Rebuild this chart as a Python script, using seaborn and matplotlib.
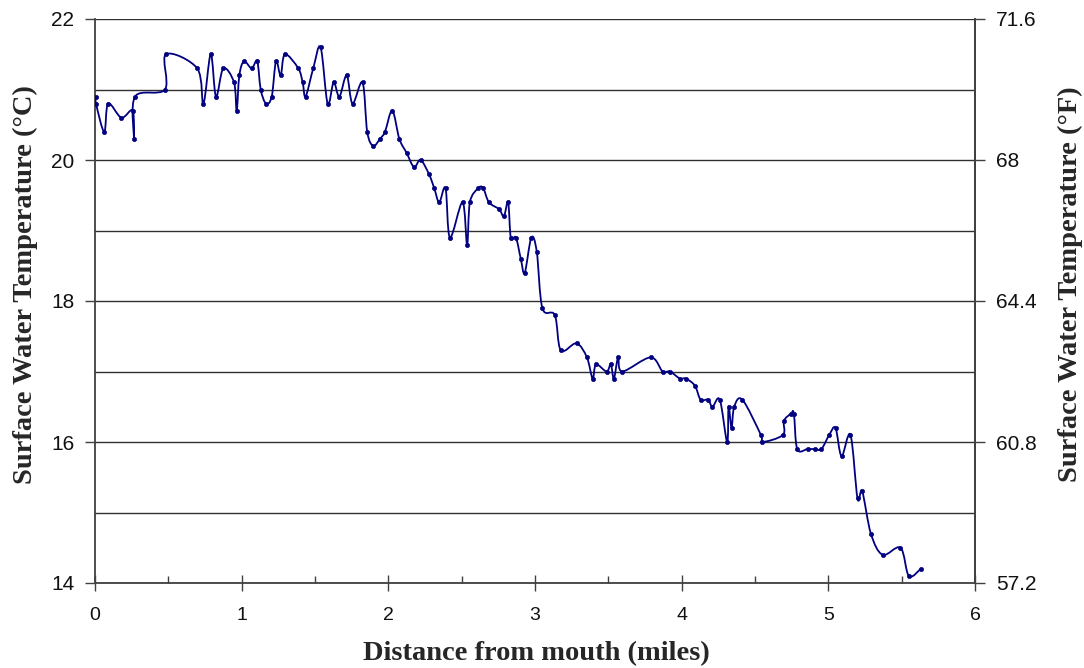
import numpy as np
import pandas as pd
import matplotlib
matplotlib.use("Agg")
import matplotlib.pyplot as plt
from matplotlib.path import Path
from matplotlib.patches import PathPatch
import seaborn as sns

# ---- data ----
distance_miles = [0.007, 0.007, 0.063, 0.09, 0.18, 0.257, 0.266, 0.273, 0.477, 0.484,
                  0.697, 0.739, 0.789, 0.825, 0.875, 0.948, 0.966, 0.984, 1.016, 1.068,
                  1.106, 1.13, 1.166, 1.205, 1.234, 1.266, 1.295, 1.386, 1.416, 1.436,
                  1.488, 1.538, 1.586, 1.627, 1.666, 1.716, 1.756, 1.824, 1.856, 1.897,
                  1.943, 1.977, 2.027, 2.075, 2.125, 2.175, 2.22, 2.277, 2.313, 2.347,
                  2.39, 2.42, 2.506, 2.537, 2.556, 2.613, 2.647, 2.686, 2.756, 2.788,
                  2.817, 2.835, 2.87, 2.903, 2.93, 2.975, 3.012, 3.05, 3.135, 3.176,
                  3.283, 3.354, 3.393, 3.416, 3.488, 3.517, 3.538, 3.567, 3.595, 3.788,
                  3.87, 3.92, 3.988, 4.028, 4.09, 4.129, 4.18, 4.21, 4.26, 4.31,
                  4.32, 4.34, 4.358, 4.414, 4.54, 4.55, 4.69, 4.697, 4.745, 4.765,
                  4.788, 4.858, 4.908, 4.953, 5.006, 5.049, 5.09, 5.151, 5.199, 5.231,
                  5.29, 5.37, 5.492, 5.549, 5.63]
temperature_c = [20.9, 20.8, 20.4, 20.8, 20.6, 20.7, 20.3, 20.9, 21.0, 21.5,
                 21.3, 20.8, 21.5, 20.9, 21.3, 21.1, 20.7, 21.2, 21.4, 21.3,
                 21.4, 21.0, 20.8, 20.9, 21.4, 21.2, 21.5, 21.3, 21.1, 20.9,
                 21.3, 21.6, 20.8, 21.1, 20.9, 21.2, 20.8, 21.1, 20.4, 20.2,
                 20.3, 20.4, 20.7, 20.3, 20.1, 19.9, 20.0, 19.8, 19.6, 19.4,
                 19.6, 18.9, 19.4, 18.8, 19.4, 19.6, 19.6, 19.4, 19.3, 19.2,
                 19.4, 18.9, 18.9, 18.6, 18.4, 18.9, 18.7, 17.9, 17.8, 17.3,
                 17.4, 17.2, 16.9, 17.1, 17.0, 17.1, 16.9, 17.2, 17.0, 17.2,
                 17.0, 17.0, 16.9, 16.9, 16.8, 16.6, 16.6, 16.5, 16.6, 16.0,
                 16.5, 16.2, 16.5, 16.6, 16.1, 16.0, 16.1, 16.3, 16.4, 16.4,
                 15.9, 15.9, 15.9, 15.9, 16.1, 16.2, 15.8, 16.1, 15.2, 15.3,
                 14.7, 14.4, 14.5, 14.1, 14.2]

x_ticks = [0, 1, 2, 3, 4, 5, 6]
c_ticks = [14, 16, 18, 20, 22]
f_ticks = [57.2, 60.8, 64.4, 68, 71.6]
f_tick_labels = ["57.2", "60.8", "64.4", "68", "71.6"]

x_label = "Distance from mouth (miles)"
yl_label = "Surface Water Temperature (°C)"
yr_label = "Surface Water Temperature (°F)"

df = pd.DataFrame({"distance": distance_miles, "temp": temperature_c})

sns.set_theme(style="white")
plt.rcParams["font.family"] = ["Liberation Sans", "DejaVu Sans"]

line_color = "#000080"
axis_color = "#404040"
label_font = dict(family=["Liberation Serif", "DejaVu Serif"], fontweight="bold",
                  fontsize=20.5)

fig = plt.figure(figsize=(10.84, 6.68), dpi=100)
ax = fig.add_axes([95 / 1084, 1 - 583 / 668, 880 / 1084, 564 / 668])

# smoothed line (Catmull-Rom style Bezier through the data points, in data coords)
xs = np.asarray(df["distance"], float)
ys = np.asarray(df["temp"], float)
P = np.column_stack([xs, ys])
Pext = np.vstack([P[0], P, P[-1]])
verts = [tuple(P[0])]
codes = [Path.MOVETO]
for i in range(len(P) - 1):
    p0, p1, p2, p3 = Pext[i], Pext[i + 1], Pext[i + 2], Pext[i + 3]
    c1 = p1 + (p2 - p0) / 6.0
    c2 = p2 - (p3 - p1) / 6.0
    verts += [tuple(c1), tuple(c2), tuple(p2)]
    codes += [Path.CURVE4, Path.CURVE4, Path.CURVE4]
ax.add_patch(PathPatch(Path(verts, codes), facecolor="none", edgecolor=line_color,
                       lw=1.3, zorder=3))

sns.scatterplot(data=df, x="distance", y="temp", ax=ax, color=line_color, s=9,
                marker="o", edgecolor=line_color, linewidth=0.5, zorder=4, legend=False)

ax.set_xlim(0, 6)
ax.set_ylim(14, 22)
ax.set_xticks(x_ticks)
ax.set_xticks([0.5, 1.5, 2.5, 3.5, 4.5, 5.5], minor=True)
ax.set_yticks(c_ticks)
ax.set_yticks(np.arange(14, 23, 1), minor=True)
ax.yaxis.grid(True, which="both", color="#303030", lw=1.0)
ax.xaxis.grid(False)
ax.set_axisbelow(True)

for s in ["left", "bottom", "right"]:
    ax.spines[s].set_color(axis_color)
    ax.spines[s].set_linewidth(1.3)
ax.spines["top"].set_visible(False)

ax.tick_params(axis="x", which="major", direction="inout", length=11, width=1.0,
               color=axis_color, labelsize=14, pad=12, bottom=True, labelcolor="#111111")
ax.tick_params(axis="x", which="minor", direction="in", length=5, width=1.0,
               color=axis_color, bottom=True)
ax.tick_params(axis="y", which="major", direction="out", length=7, width=1.0,
               color=axis_color, labelsize=15, left=True, pad=8, labelcolor="#111111")
ax.tick_params(axis="y", which="minor", length=0, left=False)

ax.set_xlabel(x_label, **label_font)
ax.set_ylabel(yl_label, **label_font)
ax.xaxis.set_label_coords(0.501, -0.1260)
ax.xaxis.label.set_verticalalignment("center")
ax.yaxis.set_label_coords(-0.0795, 0.53)
ax.yaxis.label.set_verticalalignment("center")
ax.yaxis.label.set_horizontalalignment("center")

ax2 = ax.twinx()
ax2.set_ylim(57.2, 71.6)
ax2.set_yticks(f_ticks)
ax2.set_yticklabels(f_tick_labels)
ax2.grid(False)
for s in ["left", "bottom", "top"]:
    ax2.spines[s].set_visible(False)
ax2.spines["right"].set_color(axis_color)
ax2.spines["right"].set_linewidth(1.3)
ax2.tick_params(axis="y", which="major", direction="out", length=7, width=1.0,
                color=axis_color, labelsize=15, right=True, pad=8, labelcolor="#111111")
ax2.set_ylabel(yr_label, **label_font)
ax2.yaxis.set_label_coords(1.1080, 0.53)
ax2.yaxis.label.set_verticalalignment("center")
ax2.yaxis.label.set_horizontalalignment("center")

fig.savefig("out.png", dpi=100)
